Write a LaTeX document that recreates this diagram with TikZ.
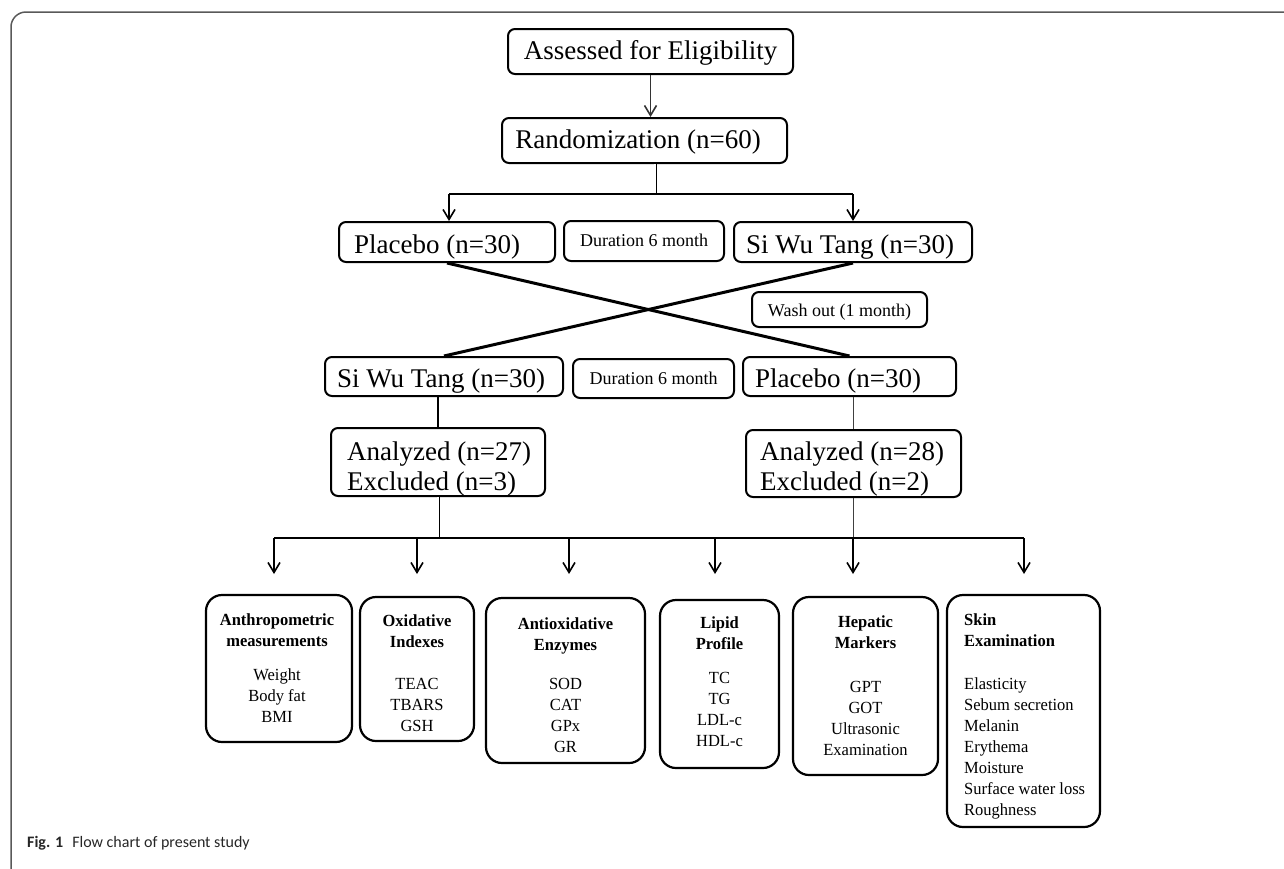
\documentclass[tikz,border=0pt]{standalone}
\usepackage{fontspec}
\setmainfont{Liberation Serif}
\newfontfamily\bodyserif[FakeStretch=0.97]{Liberation Serif}
\newfontfamily\capfont{Carlito}
\usetikzlibrary{arrows.meta,fit}
\begin{document}
\begin{tikzpicture}[x=1pt,y=-1pt,
  box/.style={draw, line width=2pt, rounded corners=7pt, inner sep=0pt},
  bbox/.style={draw, line width=2.2pt, rounded corners=16pt, inner sep=0pt},
  big/.style={font=\fontsize{27}{30}\selectfont, inner sep=0pt},
  small/.style={font=\fontsize{18}{21}\selectfont, inner sep=0pt},
  body/.style={font=\bodyserif\fontsize{17}{21}\selectfont, inner sep=0pt, align=center},
  arr/.style={line width=1.6pt, -{Straight Barb[length=10pt,width=12pt,line width=1.6pt]}},
  link/.style={line width=2pt},
  thinlink/.style={line width=1.2pt, draw=black!75},
  dbl/.style={double, double distance=1.4pt, line width=0.8pt},
  cross/.style={line width=3pt},
  bus/.style={line width=2.6pt},
  frame/.style={draw=black!65, line width=1.5pt, rounded corners=15pt}
]
\useasboundingbox (0,0) rectangle (1284,868);
\draw[frame] (1300,12) -- (11,12) -- (11,890);

% top boxes
\node[box, fit={(508,29) (793,74)}] (assess) {};
\node[big, anchor=base] (assessT) at (650.5,59) {Assessed for Eligibility};
\node[box, fit={(502,118) (787,163)}] (rand) {};
\node[big, anchor=base] (randT) at (638,148) {Randomization (n=60)};

\node[box, fit={(339,222) (555,262)}] (plac) {};
\node[big, anchor=base west] (placT) at (354,253) {Placebo (n=30)};
\node[box, fit={(564,221) (724,261)}] (dur) {};
\node[small, anchor=base] (durT) at (644,246) {Duration 6 month};
\node[box, fit={(734,222) (972,262)}] (swt) {};
\node[big, anchor=base] (swtT) at (850,253) {Si Wu Tang (n=30)};

\node[box, fit={(752,292) (927,327)}] (wash) {};
\node[small, anchor=base] (washT) at (839.5,316) {Wash out (1 month)};

\node[box, fit={(325,357) (563,396)}] (swt2) {};
\node[big, anchor=base] (swt2T) at (441,387) {Si Wu Tang (n=30)};
\node[box, fit={(573,359) (734,398)}] (dur2) {};
\node[small, anchor=base] (dur2T) at (653.5,384) {Duration 6 month};
\node[box, fit={(743,357) (956,396)}] (plac2) {};
\node[big, anchor=base west] (plac2T) at (755,387) {Placebo (n=30)};

\node[box, fit={(331,428) (545,496)}] (an27) {};
\node[big, align=left, anchor=north west] (an27T) at (347,441.5) {Analyzed (n=27)\\Excluded (n=3)};
\node[box, fit={(746,430) (961,497)}] (an28) {};
\node[big, align=left, anchor=north west] (an28T) at (760,441.5) {Analyzed (n=28)\\Excluded (n=2)};

% bottom boxes
\node[bbox, fit={(206,595) (352,742)}] (anth) {};
\node[body, anchor=north] (anthT) at (277,613.5) {\textbf{Anthropometric}\\\textbf{measurements}\\[13pt]Weight\\Body fat\\BMI};
\node[bbox, fit={(360,597) (474,741)}] (oxid) {};
\node[body, anchor=north] (oxidT) at (417,614.5) {\textbf{Oxidative}\\\textbf{Indexes}\\[21pt]TEAC\\TBARS\\GSH};
\node[bbox, fit={(486,598) (645,763)}] (antiox) {};
\node[body, anchor=north] (antioxT) at (565.5,617.5) {\textbf{Antioxidative}\\\textbf{Enzymes}\\[18pt]SOD\\CAT\\GPx\\GR};
\node[bbox, fit={(660,600) (779,768)}] (lipid) {};
\node[body, anchor=north] (lipidT) at (719.5,616.5) {\textbf{Lipid}\\\textbf{Profile}\\[13pt]TC\\TG\\LDL-c\\HDL-c};
\node[bbox, fit={(793,597) (938,775)}] (hepat) {};
\node[body, anchor=north] (hepatT) at (865.5,615.5) {\textbf{Hepatic}\\\textbf{Markers}\\[23pt]GPT\\GOT\\Ultrasonic\\Examination};
\node[bbox, fit={(947,595) (1100,827)}] (skin) {};
\node[body, align=left, anchor=north west] (skinT) at (964,613.5) {\textbf{Skin}\\\textbf{Examination}\\[22pt]Elasticity\\Sebum secretion\\Melanin\\Erythema\\Moisture\\Surface water loss\\Roughness};

% connectors
\draw[arr, draw=black!80] (assess.south) -- (assess.south |- rand.north);
\coordinate (split) at (655,194);
\coordinate (sL) at (449,194);
\coordinate (sR) at (853,194);
\draw[dbl] (rand.south -| split) -- (split);
\draw[bus] (sL) -- (sR);
\draw[arr] (sL) -- (sL |- plac.north);
\draw[arr] (sR) -- (sR |- swt.north);

\draw[cross] (plac.south) -- (plac2.north);
\draw[cross] (swt.south) -- (swt2.north);

\draw[link] (swt2.south -| an27.north) -- (an27.north);
\draw[thinlink] (plac2.south -| an28.north) -- (an28.north);

\coordinate (busL) at (274,538);
\coordinate (busR) at (1024,538);
\draw[dbl] (an27.south) -- (an27.south |- busL);
\draw[thinlink] (an28.south) -- (an28.south |- busL);
\draw[bus] (busL) -- (busR);

\coordinate (e1) at (274,574);
\coordinate (e2) at (417,574);
\coordinate (e3) at (569,574);
\coordinate (e4) at (715,574);
\coordinate (e5) at (853,574);
\coordinate (e6) at (1024,574);
\foreach \e in {e1,e2,e3,e4,e5,e6}
  \draw[arr] (\e |- busL) -- (\e);

% caption
\node[anchor=base west, inner sep=0pt, text=black!85, font=\capfont\fontsize{16}{18}\selectfont] (cap) at (27,847) {\textbf{Fig. 1}\hspace{9pt}Flow chart of present study};
\end{tikzpicture}
\end{document}
